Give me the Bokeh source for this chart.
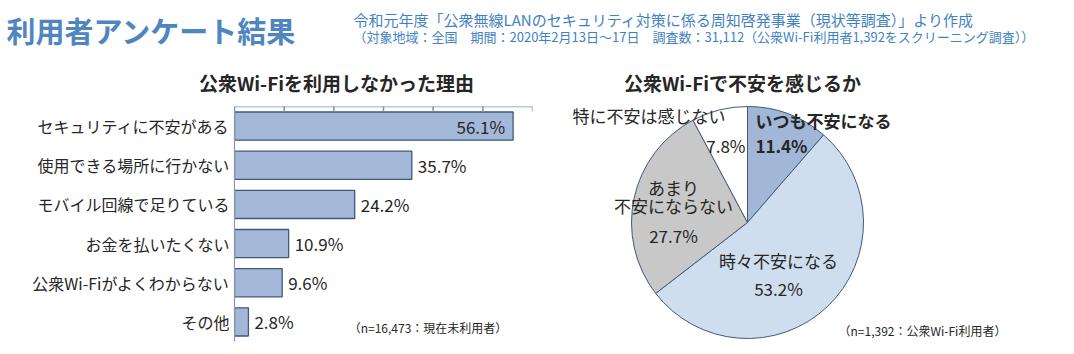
import math
from bokeh.plotting import figure
from bokeh.layouts import column, row
from bokeh.models import Range1d, LinearAxis, FixedTicker, ColumnDataSource, Span
from bokeh.core.properties import value
from bokeh.embed import file_html
from bokeh.resources import INLINE

# ---------------- data ----------------
main_title = "利用者アンケート結果"
source_line1 = "令和元年度「公衆無線LANのセキュリティ対策に係る周知啓発事業（現状等調査）」より作成"
source_line2 = "（対象地域：全国　期間：2020年2月13日～17日　調査数：31,112（公衆Wi-Fi利用者1,392をスクリーニング調査））"

bar_title = "公衆Wi-Fiを利用しなかった理由"
reasons = ["セキュリティに不安がある", "使用できる場所に行かない", "モバイル回線で足りている",
           "お金を払いたくない", "公衆Wi-Fiがよくわからない", "その他"]
reason_pct = [56.1, 35.7, 24.2, 10.9, 9.6, 2.8]
bar_ticks = [0, 10, 20, 30, 40, 50, 60]
bar_note = "（n=16,473：現在未利用者）"

pie_title = "公衆Wi-Fiで不安を感じるか"
anxiety = ["いつも不安になる", "時々不安になる", "あまり不安にならない", "特に不安は感じない"]
anxiety_pct = [11.4, 53.2, 27.7, 7.8]
pie_note = "（n=1,392：公衆Wi-Fi利用者）"

# ---------------- styles ----------------
FONT = "Noto Sans CJK JP"
BLUE_TITLE = "#4f86c0"
BLUE_SUB = "#3f82c4"
TXT = "#262626"
BAR_FILL = "#a3b8d9"
EDGE = "#3e5a7a"
AXIS_TOP = "#7d92ad"
PIE_COLORS = ["#a2b7d8", "#cfdeef", "#c8c8c8", "#ffffff"]

def base_fig(**kw):
    f = figure(output_backend="svg", toolbar_location=None, **kw)
    f.outline_line_color = None
    f.background_fill_color = "white"
    f.border_fill_color = "white"
    f.frame_align = False
    for g in f.xgrid + f.ygrid:
        g.grid_line_color = None
    return f

# ---------------- header ----------------
hdr = base_fig(width=1074, height=95, x_range=Range1d(0, 1074), y_range=Range1d(95, 0),
               x_axis_location=None, y_axis_location=None, min_border=0)
hdr.text(x=[6], y=[29], text=[main_title], text_font=value(FONT), text_font_style="bold",
         text_font_size="29px", text_color=BLUE_TITLE, text_align="left", text_baseline="middle")
hdr.text(x=[353], y=[19], text=[source_line1], text_font=value(FONT), text_font_size="15px",
         text_color=BLUE_SUB, text_align="left", text_baseline="middle")
hdr.text(x=[353], y=[36], text=[source_line2], text_font=value(FONT), text_font_size="13px",
         text_color=BLUE_SUB, text_align="left", text_baseline="middle")
hdr.text(x=[336], y=[82], text=[bar_title], text_font=value(FONT), text_font_style="bold",
         text_font_size="19px", text_color=TXT, text_align="center", text_baseline="middle")
hdr.text(x=[742], y=[82], text=[pie_title], text_font=value(FONT), text_font_style="bold",
         text_font_size="19px", text_color=TXT, text_align="center", text_baseline="middle")

# ---------------- bar chart ----------------
pos = list(range(len(reasons)))           # row index of each category (0 = top)
top_edge = -0.5
p1 = base_fig(width=540, height=259, x_range=Range1d(0, 60),
              y_range=Range1d(len(reasons) - 0.5, top_edge),
              x_axis_location=None, y_axis_location=None,
              min_border_left=234, min_border_right=8, min_border_top=11, min_border_bottom=13)
p1.hbar(y=pos, left=0, right=reason_pct, height=0.72, fill_color=BAR_FILL,
        line_color=EDGE, line_width=1.3)

# top value axis: line along the frame top, ticks pointing inward (clipped at the frame)
p1.add_layout(Span(location=top_edge, dimension="width", line_color=AXIS_TOP, line_width=1.5))
p1.scatter(x=bar_ticks, y=[top_edge] * len(bar_ticks), marker="dash",
           angle=math.pi / 2, size=10, line_color=AXIS_TOP, line_width=1.5)

left_ax = LinearAxis(ticker=FixedTicker(ticks=pos),
                     major_label_overrides={i: r for i, r in zip(pos, reasons)},
                     major_tick_line_color=None, major_tick_out=0, major_tick_in=0,
                     minor_tick_line_color=None,
                     axis_line_color="#8c98a6", axis_line_width=1.2,
                     major_label_text_font=FONT, major_label_text_font_size="16px",
                     major_label_text_color=TXT, major_label_standoff=5)
p1.add_layout(left_ax, "left")

inside = [v >= 50 for v in reason_pct]
src_in = ColumnDataSource(dict(y=[r for r, i in zip(pos, inside) if i],
                               x=[v for v, i in zip(reason_pct, inside) if i],
                               t=[f"{v:.1f}%" for v, i in zip(reason_pct, inside) if i]))
src_out = ColumnDataSource(dict(y=[r for r, i in zip(pos, inside) if not i],
                                x=[v for v, i in zip(reason_pct, inside) if not i],
                                t=[f"{v:.1f}%" for v, i in zip(reason_pct, inside) if not i]))
p1.text(x="x", y="y", text="t", source=src_in, text_align="right", text_baseline="middle",
        x_offset=-8, text_font=value(FONT), text_font_size="17px", text_color=TXT)
p1.text(x="x", y="y", text="t", source=src_out, text_align="left", text_baseline="middle",
        x_offset=6, text_font=value(FONT), text_font_size="17px", text_color=TXT)
p1.text(x=[23], y=[pos[-1]], text=[bar_note], text_align="left", text_baseline="middle",
        y_offset=6, text_font=value(FONT), text_font_size="12px", text_color=TXT)

# ---------------- pie chart ----------------
p2 = base_fig(width=534, height=259, x_range=Range1d(0, 534), y_range=Range1d(0, 259),
              x_axis_location=None, y_axis_location=None, min_border=0)
cx, cy, rad = 207, 132, 116
total = sum(anxiety_pct)
starts, ends = [], []
acc = 0.0
for v in anxiety_pct:
    starts.append(math.pi / 2 - 2 * math.pi * acc / total)
    acc += v
    ends.append(math.pi / 2 - 2 * math.pi * acc / total)
p2.wedge(x=cx, y=cy, radius=rad, start_angle=starts, end_angle=ends, direction="clock",
         fill_color=PIE_COLORS, line_color=EDGE, line_width=1)

# label layout (position of each text in the pie panel)
lab = [
    (215, 234, anxiety[0], "left", "bold"),
    (215, 209, f"{anxiety_pct[0]}%", "left", "bold"),
    (32, 239, anxiety[3], "left", "normal"),
    (205, 209, f"{anxiety_pct[3]}%", "right", "normal"),
    (133, 167, "あまり", "center", "normal"),
    (133, 149, "不安にならない", "center", "normal"),
    (133, 119, f"{anxiety_pct[2]}%", "center", "normal"),
    (238, 94, anxiety[1], "center", "normal"),
    (238, 66, f"{anxiety_pct[1]}%", "center", "normal"),
]
for x, y, t, al, st in lab:
    p2.text(x=[x], y=[y], text=[t], text_align=al, text_baseline="middle", text_font_style=st,
            text_font=value(FONT), text_font_size="17px", text_color=TXT)
p2.text(x=[298], y=[24], text=[pie_note], text_align="left", text_baseline="middle",
        text_font=value(FONT), text_font_size="12px", text_color=TXT)

layout = column(hdr, row(p1, p2, spacing=0), spacing=0)
open("out.html", "w").write(file_html(layout, INLINE))
